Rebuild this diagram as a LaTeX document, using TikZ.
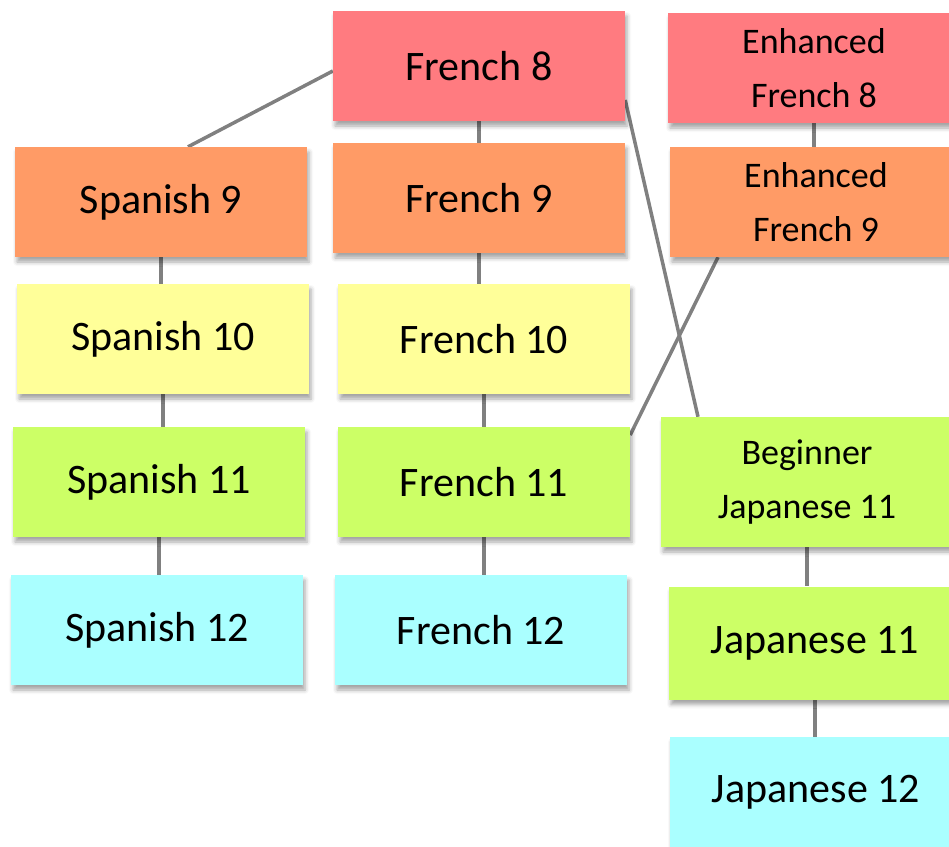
\documentclass[tikz,border=0pt]{standalone}
\usepackage{fontspec}
\setmainfont{Carlito}
\usetikzlibrary{shadows.blur,backgrounds}
\definecolor{lvleight}{RGB}{255,123,128}
\definecolor{lvlnine}{RGB}{255,155,102}
\definecolor{lvlten}{RGB}{255,255,153}
\definecolor{lvleleven}{RGB}{204,255,102}
\definecolor{lvltwelve}{RGB}{170,255,255}
\begin{document}
\begin{tikzpicture}[x=1pt,y=-1pt,
	course/.style={rectangle,minimum width=292pt,minimum height=110pt,inner sep=0pt,
		font=\fontsize{42}{50}\selectfont,
		blur shadow={shadow xshift=2pt,shadow yshift=-5pt,shadow blur radius=4pt,shadow opacity=35}},
	twoline/.style={align=center,font=\fontsize{36}{54}\selectfont},
	link/.style={draw=gray,line width=3.5pt}]
	\useasboundingbox (0,0) rectangle (949,846);
	\clip (0,0) rectangle (949,846);
	\node at (479,66) [course,fill=lvleight] (f8) {French 8};
	\node at (814,68) [course,twoline,fill=lvleight] (ef8) {Enhanced\\French 8};
	\node at (161,202) [course,fill=lvlnine] (s9) {Spanish 9};
	\node at (479,198) [course,fill=lvlnine] (f9) {French 9};
	\node at (816,202) [course,twoline,fill=lvlnine] (ef9) {Enhanced\\French 9};
	\node at (163,339) [course,fill=lvlten] (s10) {Spanish 10};
	\node at (484,339) [course,fill=lvlten] (f10) {French 10};
	\node at (159,482) [course,fill=lvleleven] (s11) {Spanish 11};
	\node at (484,482) [course,fill=lvleleven] (f11) {French 11};
	\node at (807,482) [course,twoline,fill=lvleleven,minimum height=130pt] (bj11) {Beginner\\Japanese 11};
	\node at (157,630) [course,fill=lvltwelve] (s12) {Spanish 12};
	\node at (481,630) [course,fill=lvltwelve] (f12) {French 12};
	\node at (815,643) [course,fill=lvleleven,minimum height=113pt] (j11) {Japanese 11};
	\node at (816,792) [course,fill=lvltwelve] (j12) {Japanese 12};
	\begin{scope}[on background layer]
		\draw[link] ([yshift=-5pt]f8.west) -- ([xshift=27pt]s9.north);
		\draw[link] ([yshift=-34pt]f8.east) -- ([xshift=-109pt]bj11.north);
		\draw[link] ([xshift=-98pt]ef9.south) -- ([yshift=47pt]f11.east);
		\draw[link] (f8.south) -- (f8.south |- f9.north);
		\draw[link] (ef8.south) -- (ef8.south |- ef9.north);
		\draw[link] (s9.south) -- (s9.south |- s10.north);
		\draw[link] (s10.south) -- (s10.south |- s11.north);
		\draw[link] (s11.south) -- (s11.south |- s12.north);
		\draw[link] (f9.south) -- (f9.south |- f10.north);
		\draw[link] (f10.south) -- (f10.south |- f11.north);
		\draw[link] (f11.south) -- (f11.south |- f12.north);
		\draw[link] (bj11.south) -- (bj11.south |- j11.north);
		\draw[link] (j11.south) -- (j11.south |- j12.north);
	\end{scope}
\end{tikzpicture}
\end{document}
